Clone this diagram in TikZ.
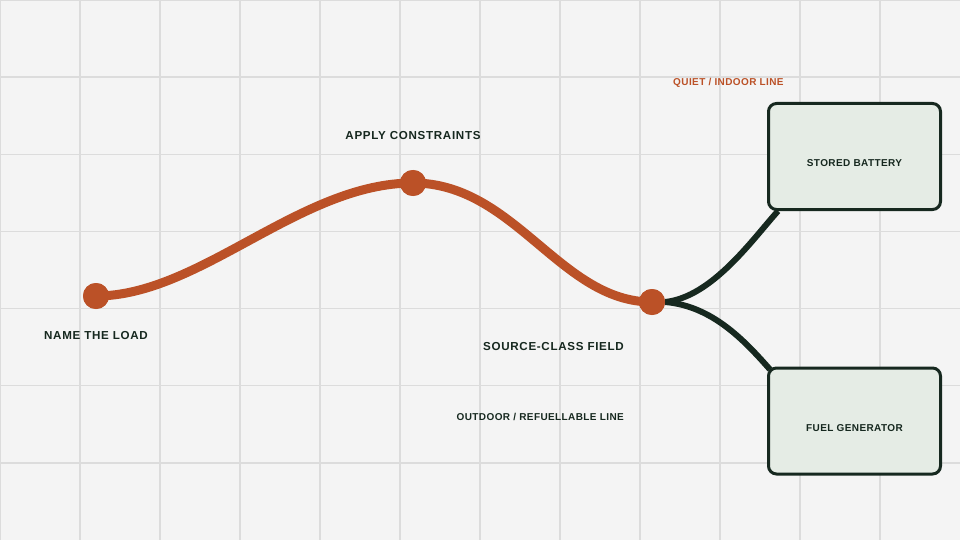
\documentclass[tikz,border=0pt]{standalone}
\usepackage{fontspec}
\setsansfont{Liberation Sans}
\newfontfamily\capsfont{Liberation Sans}[LetterSpace=6]
\newfontfamily\smallcapsfont{Liberation Sans}[LetterSpace=4]
\usetikzlibrary{calc}
\definecolor{paper}{HTML}{F4F4F4}
\definecolor{gridline}{HTML}{DCDCDC}
\definecolor{rust}{HTML}{BB5127}
\definecolor{pine}{HTML}{16281F}
\definecolor{sage}{HTML}{E5ECE5}

\begin{document}
\begin{tikzpicture}[x=1pt,y=-1pt]
        \tikzset{dot/.style = {shape=circle,fill=rust,minimum size=26pt,inner sep=0pt}}
        \tikzset{source/.style = {shape=rectangle,draw=pine,fill=sage,line width=3pt,rounded corners=8pt,
                 minimum width=172pt,minimum height=106pt,text height=21pt,text depth=0pt,
                 font=\smallcapsfont\bfseries\fontsize{10}{12}\selectfont,text=pine}}
        \tikzset{steplabel/.style = {inner sep=0pt,font=\capsfont\bfseries\fontsize{11.6}{13}\selectfont,text=pine}}
        \tikzset{linelabel/.style = {inner sep=0pt,font=\smallcapsfont\bfseries\fontsize{10}{12}\selectfont}}
        \tikzset{trail/.style = {draw=rust,line width=9pt,line cap=round}}
        \tikzset{branch/.style = {draw=pine,line width=6pt}}
        % background and grid
        \fill[paper] (0,0) rectangle (960,540);
        \useasboundingbox (0,0) rectangle (960,540);
        \foreach \x in {0,80,...,880}
            \draw[gridline,line width=1.5pt] (\x,0) -- (\x,540);
        \foreach \i in {0,...,6}
            \draw[gridline,line width=1.5pt] (0,\i*77.14) -- (960,\i*77.14);
        % vertices
        \node[dot] (load) at (96,296) {};
        \node[dot] (crest) at (413,183) {};
        \node[dot] (junction) at (652,302) {};
        \node[source] (battery) at (854.5,156.5) {STORED BATTERY};
        \node[source] (generator) at (854.5,421) {FUEL GENERATOR};
        % labels
        \node[steplabel] (loadtext) at (96,336) {NAME THE LOAD};
        \node[steplabel] (cresttext) at (413,136) {APPLY CONSTRAINTS};
        \node[steplabel,anchor=east] (fieldtext) at (624,347) {SOURCE-CLASS FIELD};
        \node[linelabel,text=rust,anchor=west] (quiettext) at (673,83) {QUIET / INDOOR LINE};
        \node[linelabel,text=pine,anchor=east] (outdoortext) at (624,417) {OUTDOOR / REFUELLABLE LINE};
        %edges
        \draw[trail] (load.center) .. controls (200,296) and (300,183) .. (crest.center)
                     .. controls (515,183) and (560,302) .. (junction.center);
        \draw[branch] (junction.east) .. controls (712,297) and (752,240) .. ([xshift=11pt]battery.south west);
        \draw[branch] (junction.east) .. controls (712,306) and (744,340) .. ([xshift=3pt,yshift=-3pt]generator.north west);
        \node[dot] at (load) {};
        \node[dot] at (crest) {};
        \node[dot] at (junction) {};
\end{tikzpicture}
\end{document}
